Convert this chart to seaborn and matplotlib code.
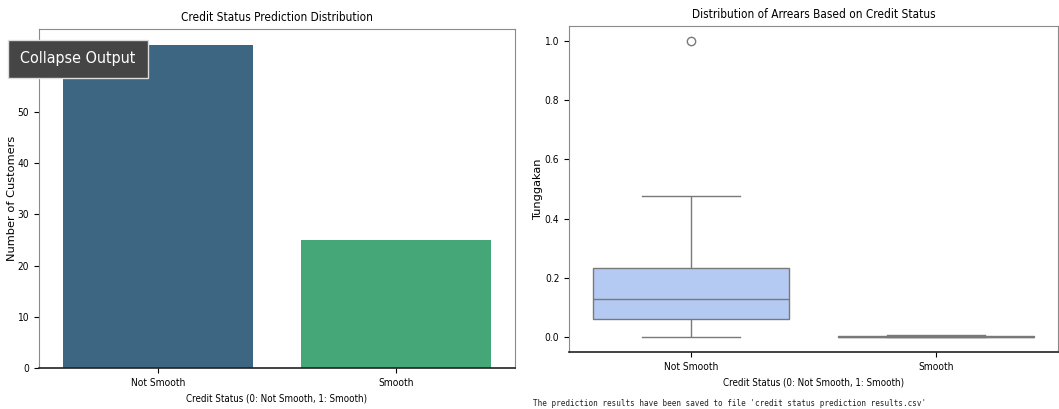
import matplotlib
matplotlib.use("Agg")
import matplotlib.pyplot as plt
import seaborn as sns
import pandas as pd

# Data
status_labels = ["Not Smooth", "Smooth"]
customer_counts = [63, 25]

# arrears samples (sorted) per credit status
arrears_not_smooth = [0.0, 0.03, 0.06, 0.10, 0.128, 0.18, 0.234, 0.476, 1.0]
arrears_smooth = [0.0, 0.0, 0.0, 0.0, 0.0, 0.002, 0.004, 0.006, 0.008]

counts_df = pd.DataFrame({"status": status_labels, "count": customer_counts})
arrears_df = pd.DataFrame({
    "status": ["Not Smooth"] * len(arrears_not_smooth) + ["Smooth"] * len(arrears_smooth),
    "Tunggakan": arrears_not_smooth + arrears_smooth,
})

plt.rcParams["font.family"] = ["DejaVu Sans"]
plt.rcParams["font.stretch"] = "condensed"

fig = plt.figure(figsize=(10.59, 4.09), dpi=100)

# ------------------------------------
# PREDICTION DISTRIBUTION
# ------------------------------------
ax1 = fig.add_axes([0.0368, 0.1002, 0.4495, 0.8289])
sns.barplot(x="status", y="count", hue="status", data=counts_df,
            palette="viridis", legend=False, ax=ax1)
ax1.set_title("Credit Status Prediction Distribution", fontsize=8.5)
ax1.set_xlabel("Credit Status (0: Not Smooth, 1: Smooth)", fontsize=7)
ax1.set_ylabel("Number of Customers", fontsize=8.2, fontstretch="normal", labelpad=0)
ax1.tick_params(labelsize=7.3)

# ------------------------------------
# ARREARS BY STATUS
# ------------------------------------
ax2 = fig.add_axes([0.5373, 0.1394, 0.4618, 0.797])
sns.boxplot(x="status", y="Tunggakan", hue="status", data=arrears_df,
            palette="coolwarm", legend=False, ax=ax2)
ax2.set_title("Distribution of Arrears Based on Credit Status", fontsize=8.5)
ax2.set_xlabel("Credit Status (0: Not Smooth, 1: Smooth)", fontsize=7)
ax2.set_ylabel("Tunggakan", fontsize=8.2, fontstretch="normal", labelpad=1)
ax2.tick_params(labelsize=7.3)

for ax in (ax1, ax2):
    for side in ("top", "right", "left"):
        ax.spines[side].set_color("#8a8a8a")
    ax.spines["bottom"].set_color("#222222")
    ax.spines["bottom"].set_linewidth(1.2)

# notebook output line and overlay button
fig.text(533 / 1059, 1 - 403 / 409, "The prediction results have been saved to file "
         "'credit status prediction results.csv'",
         family="DejaVu Sans Mono", fontsize=5.5, va="center", ha="left", color="#222222")
fig.text(78 / 1059, 1 - 59 / 409, "Collapse Output", fontsize=11.5, color="white",
         ha="center", va="center",
         bbox=dict(boxstyle="square,pad=0.75", facecolor="#454545", edgecolor="#dddddd"))

fig.savefig("out.png", dpi=100)
